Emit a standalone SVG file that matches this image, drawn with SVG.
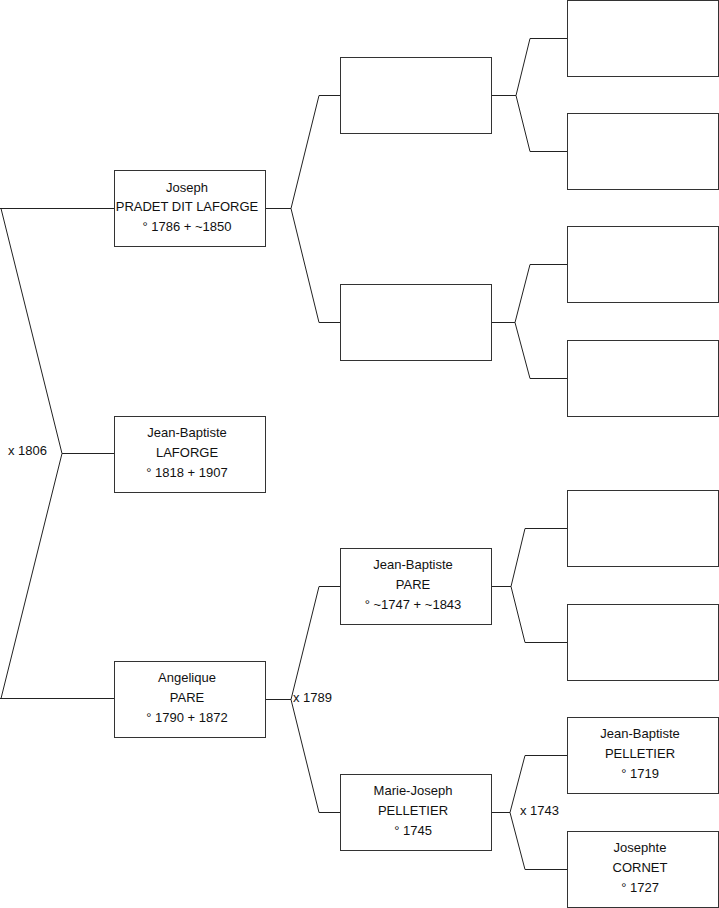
<svg xmlns="http://www.w3.org/2000/svg" width="719" height="908" viewBox="0 0 719 908">
<style>
.box{fill:#fff;stroke:#333;stroke-width:1}
.ln{fill:none;stroke:#222;stroke-width:1}
text{font-family:"Liberation Sans",Arial,sans-serif;font-size:13px;fill:#111}
.c{text-anchor:middle}
</style>
<rect width="719" height="908" fill="#fff"/>
<g id="connectors">
<path class="ln" d="M0,208.5 H114.5 M1,208.5 L62,453.5 L1,698.5 M0,698.5 H114.5 M62,453.5 H114.5"/>
<path class="ln" d="M265.5,208.5 H291 L319,95.5 H340.5 M291,208.5 L319,322.5 H340.5"/>
<path class="ln" d="M265.5,699.5 H291 L319,586.5 H340.5 M291,699.5 L319,812.5 H340.5"/>
<path class="ln" d="M491.5,95.5 H516 L530,38.5 H567.5 M516,95.5 L530,151.5 H567.5"/>
<path class="ln" d="M491.5,322.5 H515 L530,264.5 H567.5 M515,322.5 L530,378.5 H567.5"/>
<path class="ln" d="M491.5,586.5 H511 L525,528.5 H567.5 M511,586.5 L525,642.5 H567.5"/>
<path class="ln" d="M491.5,812.5 H510 L525,755.5 H567.5 M510,812.5 L525,869.5 H567.5"/>
<text x="8" y="455">x 1806</text>
<text x="293" y="702">x 1789</text>
<text x="520" y="815">x 1743</text>
</g>
<g id="joseph">
<rect class="box" x="114.5" y="170.5" width="151" height="76"/>
<text class="c" x="187" y="192">Joseph</text>
<text class="c" x="187" y="211">PRADET DIT LAFORGE</text>
<text class="c" x="187" y="231">° 1786 + ~1850</text>
</g>
<g id="jb-laforge">
<rect class="box" x="114.5" y="416.5" width="151" height="76"/>
<text class="c" x="187" y="437">Jean-Baptiste</text>
<text class="c" x="187" y="457">LAFORGE</text>
<text class="c" x="187" y="477">° 1818 + 1907</text>
</g>
<g id="angelique">
<rect class="box" x="114.5" y="661.5" width="151" height="76"/>
<text class="c" x="187" y="682">Angelique</text>
<text class="c" x="187" y="702">PARE</text>
<text class="c" x="187" y="722">° 1790 + 1872</text>
</g>
<g id="g2-1"><rect class="box" x="340.5" y="57.5" width="151" height="76"/></g>
<g id="g2-2"><rect class="box" x="340.5" y="284.5" width="151" height="76"/></g>
<g id="jb-pare">
<rect class="box" x="340.5" y="548.5" width="151" height="76"/>
<text class="c" x="413" y="569">Jean-Baptiste</text>
<text class="c" x="413" y="589">PARE</text>
<text class="c" x="413" y="609">° ~1747 + ~1843</text>
</g>
<g id="mj-pelletier">
<rect class="box" x="340.5" y="774.5" width="151" height="76"/>
<text class="c" x="413" y="795">Marie-Joseph</text>
<text class="c" x="413" y="815">PELLETIER</text>
<text class="c" x="413" y="835">° 1745</text>
</g>
<g id="g3-1"><rect class="box" x="567.5" y="0.5" width="151" height="76"/></g>
<g id="g3-2"><rect class="box" x="567.5" y="113.5" width="151" height="76"/></g>
<g id="g3-3"><rect class="box" x="567.5" y="226.5" width="151" height="76"/></g>
<g id="g3-4"><rect class="box" x="567.5" y="340.5" width="151" height="76"/></g>
<g id="g3-5"><rect class="box" x="567.5" y="490.5" width="151" height="76"/></g>
<g id="g3-6"><rect class="box" x="567.5" y="604.5" width="151" height="76"/></g>
<g id="jb-pelletier">
<rect class="box" x="567.5" y="717.5" width="151" height="76"/>
<text class="c" x="640" y="738">Jean-Baptiste</text>
<text class="c" x="640" y="758">PELLETIER</text>
<text class="c" x="640" y="778">° 1719</text>
</g>
<g id="josephte-cornet">
<rect class="box" x="567.5" y="831.5" width="151" height="76"/>
<text class="c" x="640" y="852">Josephte</text>
<text class="c" x="640" y="872">CORNET</text>
<text class="c" x="640" y="892">° 1727</text>
</g>
</svg>
